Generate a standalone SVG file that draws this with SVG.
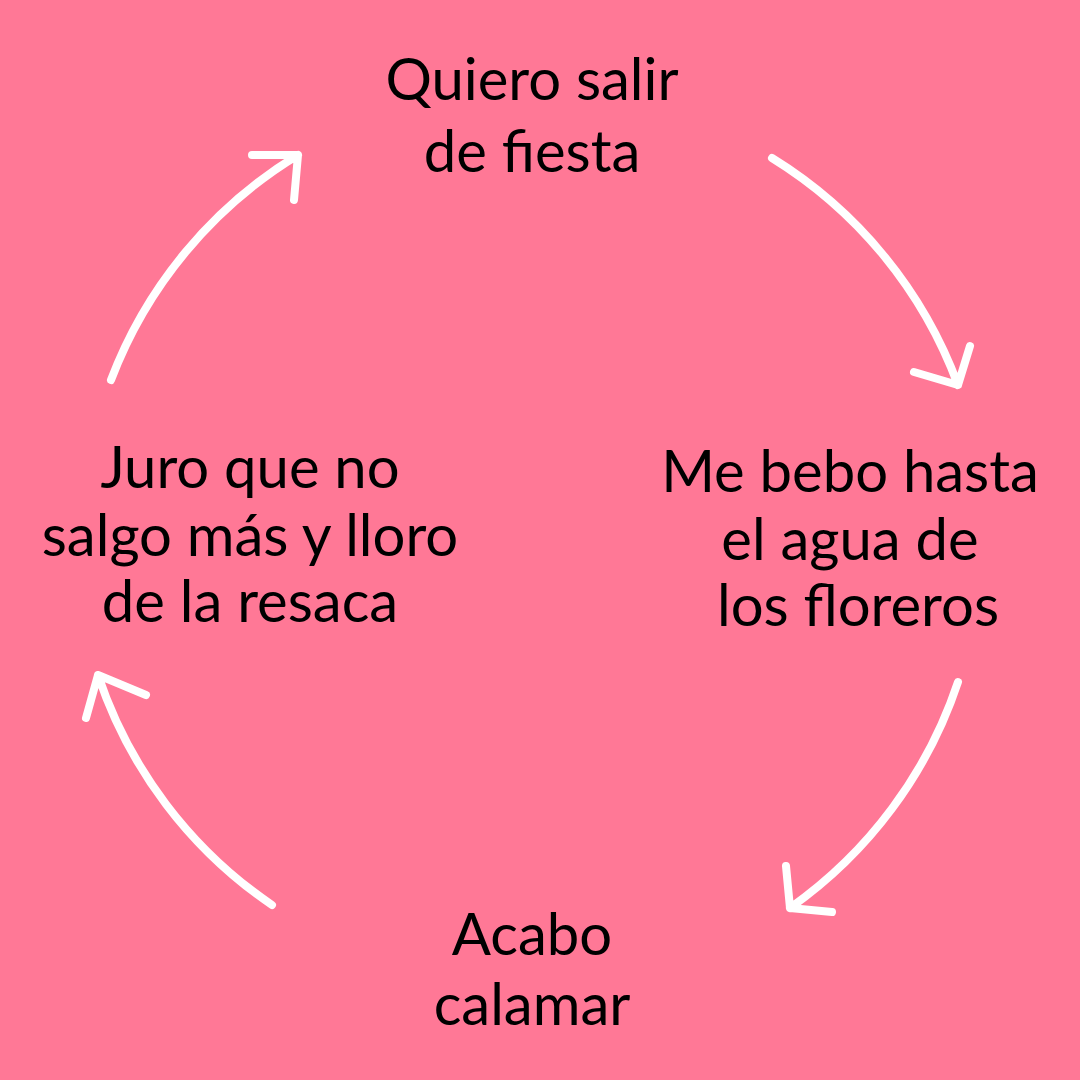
<svg xmlns="http://www.w3.org/2000/svg" width="1080" height="1080" viewBox="0 0 1080 1080">
<style>
.t{font-family:"Lato","Open Sans",sans-serif;font-size:58px;fill:#000;text-anchor:middle}
.a{fill:none;stroke:#fff;stroke-width:8;stroke-linecap:round;stroke-linejoin:round}
</style>
<rect width="1080" height="1080" fill="#FF7896"/>
<g id="connectors">
<path class="a" d="M772,158 A450,450 0 0 1 958,385 M914,372 L958,385 L970,346"/>
<path class="a" d="M958,682 A450,450 0 0 1 790,908 M786,866 L790,908 L832,912"/>
<path class="a" d="M272,905 A450,450 0 0 1 98,675 M86,718 L98,675 L146,695"/>
<path class="a" d="M111,380 A450,450 0 0 1 298,155 M252,155 L298,155 L294,200"/>
</g>
<g id="n1"><text class="t" x="532" y="100">Quiero salir</text><text class="t" x="532" y="172">de fiesta</text></g>
<g id="n2"><text class="t" x="850" y="492">Me bebo hasta</text><text class="t" x="850" y="560">el agua de</text><text class="t" x="858" y="626">los floreros</text></g>
<g id="n3"><text class="t" x="532" y="955">Acabo</text><text class="t" x="532" y="1025">calamar</text></g>
<g id="n4"><text class="t" x="250" y="488">Juro que no</text><text class="t" x="250" y="556">salgo más y lloro</text><text class="t" x="250" y="622">de la resaca</text></g>
</svg>
